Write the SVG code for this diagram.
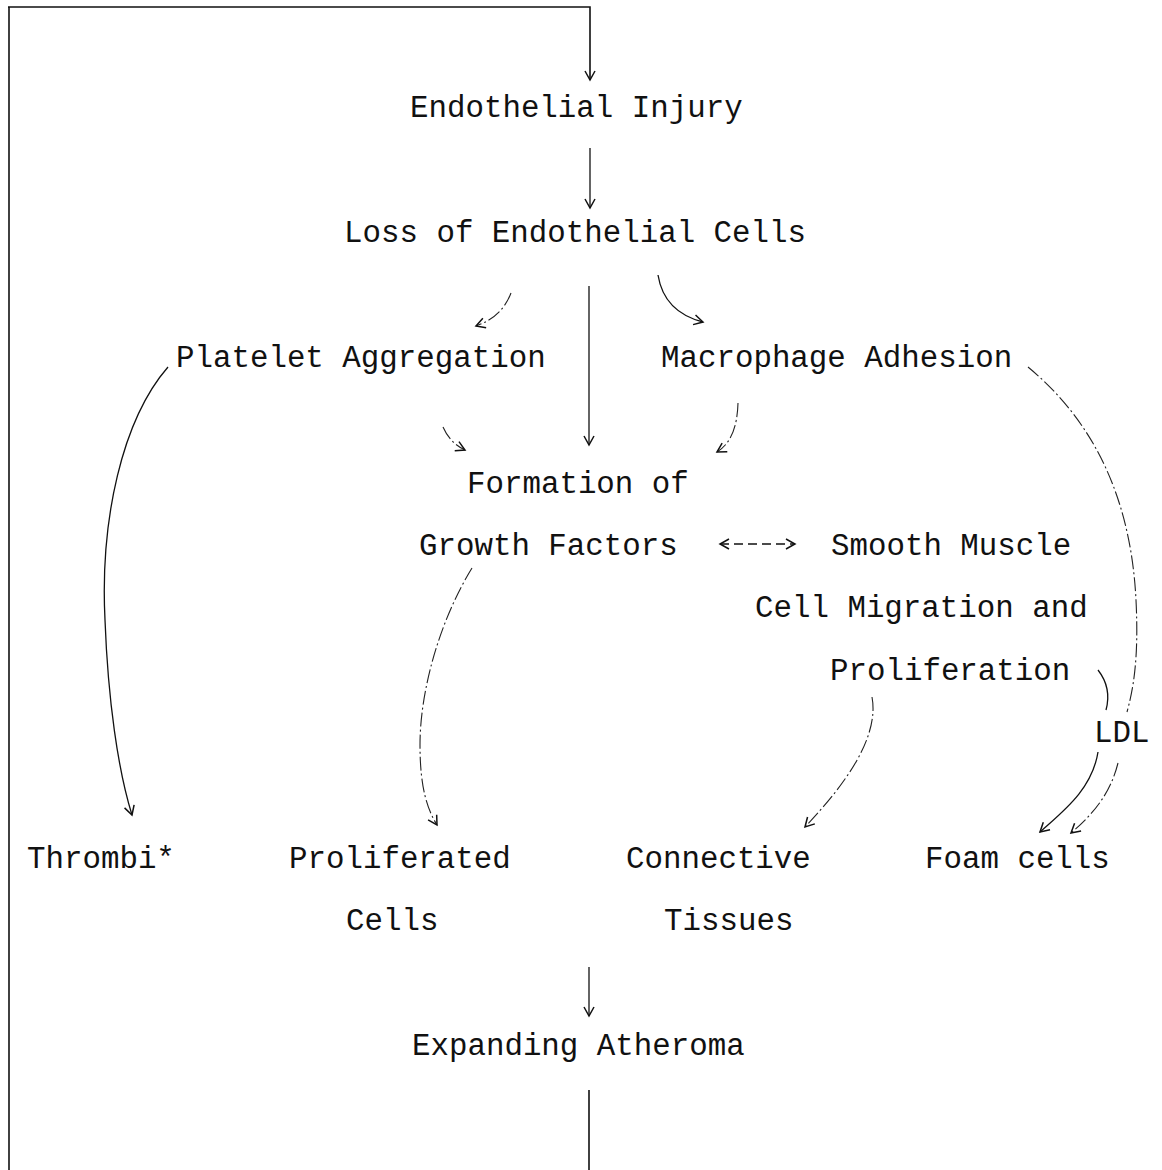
<svg xmlns="http://www.w3.org/2000/svg" width="1162" height="1170" viewBox="0 0 1162 1170">
<style>
text{font-family:"Liberation Mono","Courier New",monospace;font-size:30.8px;fill:#111}
.c{fill:none;stroke:#111;stroke-width:1.3}
.d{fill:none;stroke:#222;stroke-width:1.1;stroke-dasharray:14 3 2 3}
.e{fill:none;stroke:#111;stroke-width:1.6;stroke-dasharray:9 5}
.h{fill:none;stroke:#111;stroke-width:1.6}
</style>
<defs>
<marker id="a" markerUnits="userSpaceOnUse" markerWidth="14" markerHeight="14" refX="10" refY="6" orient="auto-start-reverse">
<path d="M1,1 L10,6 L1,11" fill="none" stroke="#111" stroke-width="1.5"/>
</marker>
</defs>
<rect width="1162" height="1170" fill="#fff"/>
<g id="connectors">
<path class="h" d="M9,7 L9,1170"/>
<path class="h" d="M8,7 L590,7 L590,80" marker-end="url(#a)"/>
<path class="c" d="M590,148 L590,208" marker-end="url(#a)"/>
<path class="c" d="M589,286 L589,445" marker-end="url(#a)"/>
<path class="d" d="M511,293 Q502,317 476,326" marker-end="url(#a)"/>
<path class="c" d="M658,275 Q664,312 703,322" marker-end="url(#a)"/>
<path class="d" d="M443,427 Q450,443 465,450" marker-end="url(#a)"/>
<path class="d" d="M738,403 Q737,440 717,452" marker-end="url(#a)"/>
<path class="c" d="M168,367 C122,420 100,520 105,620 C108,700 118,770 132,815" marker-end="url(#a)"/>
<path class="d" d="M472,568 C440,620 420,690 420,745 C420,790 428,810 437,825" marker-end="url(#a)"/>
<path class="e" d="M720,544 L795,544" marker-start="url(#a)" marker-end="url(#a)"/>
<path class="d" d="M872,697 C880,740 840,790 805,827" marker-end="url(#a)"/>
<path class="c" d="M1098,670 Q1112,688 1106,710"/>
<path class="c" d="M1098,752 C1092,790 1062,812 1040,832" marker-end="url(#a)"/>
<path class="d" d="M1028,367 C1080,410 1130,480 1136,600 C1139,660 1133,690 1127,712"/>
<path class="d" d="M1118,763 C1110,795 1092,815 1071,833" marker-end="url(#a)"/>
<path class="h" d="M589,1090 L589,1170"/>
<path class="c" d="M589,967 L589,1016" marker-end="url(#a)"/>
</g>
<g id="n-endothelial-injury"><text x="410" y="117">Endothelial Injury</text></g>
<g id="n-loss"><text x="344" y="242">Loss of Endothelial Cells</text></g>
<g id="n-platelet"><text x="176" y="367">Platelet Aggregation</text></g>
<g id="n-macrophage"><text x="661" y="367">Macrophage Adhesion</text></g>
<g id="n-growth"><text x="467" y="493">Formation of</text><text x="419" y="555">Growth Factors</text></g>
<g id="n-smooth"><text x="831" y="555">Smooth Muscle</text><text x="755" y="617">Cell Migration and</text><text x="830" y="680">Proliferation</text></g>
<g id="n-ldl"><text x="1094" y="742">LDL</text></g>
<g id="n-thrombi"><text x="27" y="868">Thrombi*</text></g>
<g id="n-proliferated"><text x="289" y="868">Proliferated</text><text x="346" y="930">Cells</text></g>
<g id="n-connective"><text x="626" y="868">Connective</text><text x="664" y="930">Tissues</text></g>
<g id="n-foam"><text x="925" y="868">Foam cells</text></g>
<g id="n-expanding"><text x="412" y="1055">Expanding Atheroma</text></g>
</svg>
